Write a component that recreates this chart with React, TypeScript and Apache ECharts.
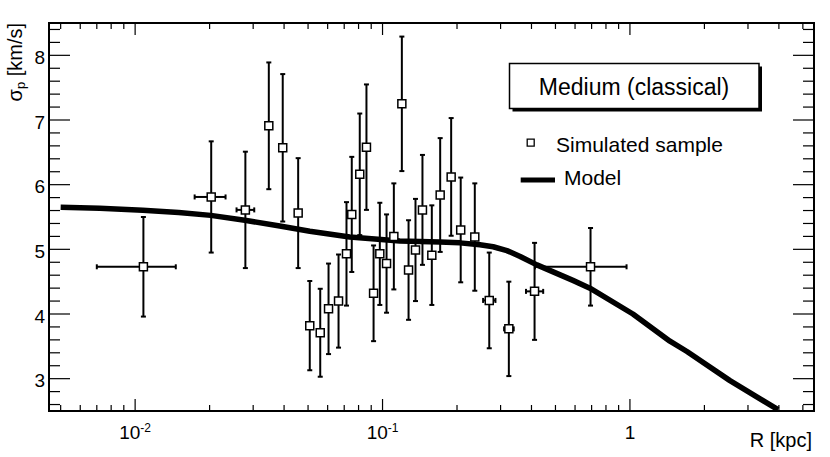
import React, { useEffect, useRef } from "react";
import * as echarts from "echarts";

// ---------- data ----------
const rValues = [0.0108, 0.0203, 0.0279, 0.0347, 0.0395, 0.0456, 0.0508, 0.056, 0.0605, 0.0664, 0.0715, 0.0751, 0.0809, 0.0861, 0.092, 0.0975, 0.1038, 0.1111, 0.1197, 0.1274, 0.1359, 0.145, 0.1582, 0.171, 0.1894, 0.207, 0.236, 0.27, 0.324, 0.4116, 0.693];
const sigmaValues = [4.73, 5.81, 5.61, 6.91, 6.57, 5.56, 3.82, 3.71, 4.08, 4.2, 4.93, 5.54, 6.16, 6.58, 4.32, 4.93, 4.78, 5.2, 7.25, 4.68, 4.99, 5.61, 4.91, 5.84, 6.12, 5.3, 5.19, 4.21, 3.77, 4.35, 4.73];
const rLow = [0.007, 0.0174, 0.0257, 0.0347, 0.0395, 0.0456, 0.0508, 0.056, 0.0605, 0.0664, 0.0715, 0.0751, 0.0809, 0.0861, 0.092, 0.0975, 0.1038, 0.1111, 0.1197, 0.1274, 0.1359, 0.145, 0.1582, 0.171, 0.1894, 0.207, 0.236, 0.255, 0.31, 0.38, 0.413];
const rHigh = [0.0146, 0.0232, 0.0303, 0.0347, 0.0395, 0.0456, 0.0508, 0.056, 0.0605, 0.0664, 0.0715, 0.0751, 0.0809, 0.0861, 0.092, 0.0975, 0.1038, 0.1111, 0.1197, 0.1274, 0.1359, 0.145, 0.1582, 0.171, 0.1894, 0.207, 0.236, 0.286, 0.339, 0.446, 0.969];
const sigmaErr = [0.77, 0.86, 0.9, 0.98, 1.14, 0.85, 0.69, 0.68, 0.7, 0.72, 0.8, 0.89, 0.94, 0.97, 0.74, 0.79, 0.76, 0.82, 1.04, 0.77, 0.79, 0.85, 0.77, 0.88, 0.91, 0.81, 0.83, 0.74, 0.73, 0.75, 0.6];

const modelR = [0.005, 0.00719, 0.01073, 0.01500, 0.02021, 0.02774, 0.03843, 0.05082, 0.07374, 0.1175, 0.1705, 0.2054, 0.2474, 0.28, 0.3182, 0.36, 0.4206, 0.5882, 0.689, 1.028, 1.451, 1.7, 2.537, 3.967];
const modelSigma = [5.65, 5.635, 5.605, 5.57, 5.525, 5.45, 5.36, 5.28, 5.19, 5.13, 5.115, 5.1, 5.07, 5.04, 4.98, 4.89, 4.76, 4.52, 4.4, 4.0, 3.58, 3.42, 2.97, 2.52];

const xMajorTicks = [0.01, 0.1, 1];
const xMinorTicks = [0.005, 0.006, 0.007, 0.008, 0.009, 0.02, 0.03, 0.04, 0.05, 0.06, 0.07, 0.08, 0.09, 0.2, 0.3, 0.4, 0.5, 0.6, 0.7, 0.8, 0.9, 2, 3, 4, 5];
const xLabelBase = ["10", "10", "1"];
const xLabelExp = ["-2", "-1", ""];
const yMajorTicks = [3, 4, 5, 6, 7, 8];
const yMinorTicks = [2.6, 2.8, 3.2, 3.4, 3.6, 3.8, 4.2, 4.4, 4.6, 4.8, 5.2, 5.4, 5.6, 5.8, 6.2, 6.4, 6.6, 6.8, 7.2, 7.4, 7.6, 7.8, 8.2, 8.4];
const yLabels = ["3", "4", "5", "6", "7", "8"];

const X_MIN = 0.004486;
const X_MAX = 5.546;
const Y_MIN = 2.5;
const Y_MAX = 8.5;

const FONT = "'Liberation Sans', Arial, Helvetica, sans-serif";

export default function App() {
  const ref = useRef<HTMLDivElement>(null);

  useEffect(() => {
    if (!ref.current) return;
    const chart = echarts.init(ref.current, undefined, { renderer: "svg" });

    const pointRows = rValues.map((r, i) => [r, sigmaValues[i], rLow[i], rHigh[i], sigmaErr[i]]);
    const modelRows = modelR.map((r, i) => [r, modelSigma[i]]);

    const line = (x1: number, y1: number, x2: number, y2: number, w: number) => ({
      type: "line",
      shape: { x1, y1, x2, y2 },
      style: { stroke: "#000", lineWidth: w },
    });

    const option: any = {
      animation: false,
      backgroundColor: "#fff",
      textStyle: { fontFamily: FONT },
      grid: {
        left: 49,
        right: 16,
        top: 23,
        bottom: 46,
        show: true,
        borderColor: "#000",
        borderWidth: 2,
        backgroundColor: "transparent",
      },
      xAxis: {
        type: "log",
        logBase: 10,
        min: X_MIN,
        max: X_MAX,
        axisLine: { show: false },
        axisTick: { show: false },
        axisLabel: { show: false },
        splitLine: { show: false },
        minorTick: { show: false },
      },
      yAxis: {
        type: "value",
        min: Y_MIN,
        max: Y_MAX,
        axisLine: { show: false },
        axisTick: { show: false },
        axisLabel: { show: false },
        splitLine: { show: false },
      },
      graphic: [
        // legend
        { type: "rect", z: 100, shape: { x: 512.5, y: 66.5, width: 249.5, height: 45 }, style: { fill: "#000" } },
        { type: "rect", z: 101, shape: { x: 509.5, y: 63.5, width: 249.5, height: 45 }, style: { fill: "#fff", stroke: "#000", lineWidth: 1.5 } },
        { type: "text", z: 102, x: 634, y: 86.5, style: { text: "Medium (classical)", align: "center", verticalAlign: "middle", fontSize: 23, fontFamily: FONT, fill: "#000" } },
        { type: "rect", z: 102, shape: { x: 527.2, y: 139.2, width: 7, height: 7 }, style: { fill: "#fff", stroke: "#000", lineWidth: 1.3 } },
        { type: "text", z: 102, x: 556, y: 144, style: { text: "Simulated sample", align: "left", verticalAlign: "middle", fontSize: 21, fontFamily: FONT, fill: "#000" } },
        { type: "line", z: 102, shape: { x1: 520.7, y1: 180, x2: 555, y2: 180 }, style: { stroke: "#000", lineWidth: 5 } },
        { type: "text", z: 102, x: 564, y: 177, style: { text: "Model", align: "left", verticalAlign: "middle", fontSize: 21, fontFamily: FONT, fill: "#000" } },
        // axis titles
        {
          type: "text",
          z: 102,
          x: 14.5,
          y: 23,
          rotation: Math.PI / 2,
          style: {
            text: "{a|σ}{b|p}{a| [km/s]}",
            align: "right",
            verticalAlign: "middle",
            fill: "#000",
            rich: {
              a: { fontSize: 20, lineHeight: 24, fontFamily: FONT, fill: "#000" },
              b: { fontSize: 13, lineHeight: 12, verticalAlign: "bottom", fontFamily: FONT, fill: "#000" },
            },
          },
        },
        { type: "text", z: 102, x: 812, y: 440, style: { text: "R [kpc]", align: "right", verticalAlign: "middle", fontSize: 20, fontFamily: FONT, fill: "#000" } },
      ],
      series: [
        {
          name: "axisDecor",
          type: "custom",
          clip: false,
          silent: true,
          z: 6,
          data: [[1, 5]],
          renderItem: (_params: any, api: any) => {
            const children: any[] = [];
            const bottom = api.coord([1, Y_MIN])[1];
            const top = api.coord([1, Y_MAX])[1];
            const left = api.coord([X_MIN, 5])[0];
            const right = api.coord([X_MAX, 5])[0];
            xMajorTicks.forEach((v, i) => {
              const px = api.coord([v, Y_MIN])[0];
              children.push(line(px, bottom, px, bottom - 12, 1.2));
              children.push(line(px, top, px, top + 12, 1.2));
              const exp = xLabelExp[i];
              children.push({
                type: "text",
                style: {
                  text: exp ? `{a|${xLabelBase[i]}}{b|${exp}}` : `{a|${xLabelBase[i]}}`,
                  x: px,
                  y: bottom + 21.5,
                  align: "center",
                  verticalAlign: "middle",
                  fill: "#000",
                  rich: {
                    a: { fontSize: 19, lineHeight: 22, fontFamily: FONT, fill: "#000" },
                    b: { fontSize: 12, lineHeight: 11, verticalAlign: "top", fontFamily: FONT, fill: "#000" },
                  },
                },
              });
            });
            xMinorTicks.forEach((v) => {
              const px = api.coord([v, Y_MIN])[0];
              children.push(line(px, bottom, px, bottom - 6, 1.2));
              children.push(line(px, top, px, top + 6, 1.2));
            });
            yMajorTicks.forEach((v, i) => {
              const py = api.coord([1, v])[1];
              children.push(line(left, py, left + 21, py, 1.2));
              children.push(line(right, py, right - 21, py, 1.2));
              children.push({
                type: "text",
                style: {
                  text: yLabels[i],
                  x: left - 4,
                  y: py + 2,
                  align: "right",
                  verticalAlign: "middle",
                  fontSize: 19,
                  fontFamily: FONT,
                  fill: "#000",
                },
              });
            });
            yMinorTicks.forEach((v) => {
              const py = api.coord([1, v])[1];
              children.push(line(left, py, left + 11, py, 1.2));
              children.push(line(right, py, right - 11, py, 1.2));
            });
            return { type: "group", children };
          },
        },
        {
          name: "Model",
          type: "line",
          data: modelRows,
          showSymbol: false,
          symbol: "none",
          smooth: false,
          z: 3,
          lineStyle: { color: "#000", width: 5.5, cap: "butt", join: "round" },
        },
        {
          name: "errors",
          type: "custom",
          z: 4,
          clip: false,
          data: pointRows,
          encode: { x: 0, y: 1 },
          renderItem: (_params: any, api: any) => {
            const x = api.value(0);
            const y = api.value(1);
            const xl = api.value(2);
            const xh = api.value(3);
            const e = api.value(4);
            const c = api.coord([x, y]);
            const t = api.coord([x, y + e]);
            const b = api.coord([x, y - e]);
            const cap = 2.5;
            const ch: any[] = [
              line(c[0], t[1], c[0], b[1], 2),
              line(c[0] - cap, t[1], c[0] + cap, t[1], 2),
              line(c[0] - cap, b[1], c[0] + cap, b[1], 2),
            ];
            if (xh > x || xl < x) {
              const l = api.coord([xl, y]);
              const h = api.coord([xh, y]);
              ch.push(line(l[0], c[1], h[0], c[1], 2));
              ch.push(line(l[0], c[1] - cap, l[0], c[1] + cap, 2));
              ch.push(line(h[0], c[1] - cap, h[0], c[1] + cap, 2));
            }
            return { type: "group", children: ch };
          },
        },
        {
          name: "Simulated sample",
          type: "scatter",
          z: 5,
          data: pointRows.map((r) => [r[0], r[1]]),
          symbol: "rect",
          symbolSize: 8,
          itemStyle: { color: "#fff", borderColor: "#000", borderWidth: 1.5, opacity: 1 },
        },
      ],
    };

    chart.setOption(option);
    return () => chart.dispose();
  }, []);

  return (
    <div
      ref={ref}
      style={{ position: "absolute", left: 0, top: 0, width: 830, height: 457, background: "#fff" }}
    />
  );
}
